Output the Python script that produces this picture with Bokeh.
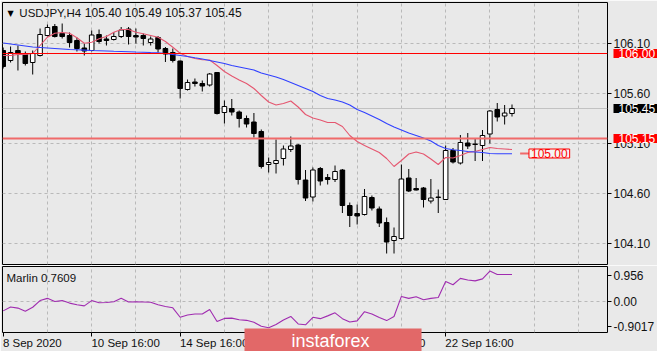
from bokeh.plotting import figure
from bokeh.models import Range1d, FixedTicker, Label, Span, ColumnDataSource, GridBox
from bokeh.embed import file_html
from bokeh.resources import INLINE

# ---------------- data ----------------
symbol = "USDJPY,H4"
opens = [106.03, 105.93, 106.03, 105.99, 105.91, 105.98, 106.18, 106.27, 106.20, 106.18,
         106.13, 106.055, 106.03, 106.19, 106.145, 106.14, 106.17, 106.245, 106.18, 106.18,
         106.11, 106.16, 106.05, 106.01, 105.925, 105.64, 105.715, 105.70, 105.685, 105.81,
         105.41, 105.45, 105.415, 105.35, 105.315, 105.22, 104.89, 104.90, 104.95, 105.04,
         105.085, 104.735, 104.565, 104.85, 104.76, 104.74, 104.835, 104.48, 104.40, 104.39,
         104.56, 104.445, 104.31, 104.13, 104.15, 104.755, 104.65, 104.655, 104.525, 104.56,
         104.54, 105.03, 104.905, 105.105, 105.09, 105.08, 105.195, 105.44, 105.375, 105.40]
highs = [106.06, 106.07, 106.08, 106.02, 106.03, 106.25, 106.29, 106.295, 106.30, 106.21,
         106.16, 106.10, 106.23, 106.24, 106.18, 106.215, 106.265, 106.265, 106.25, 106.20,
         106.17, 106.175, 106.065, 106.05, 105.93, 105.74, 105.75, 105.73, 105.805, 105.815,
         105.53, 105.545, 105.43, 105.38, 105.405, 105.24, 104.96, 105.14, 105.08, 105.17,
         105.095, 104.835, 104.86, 104.865, 104.795, 104.88, 104.845, 104.51, 104.49, 104.645,
         104.58, 104.47, 104.36, 104.26, 104.89, 104.845, 104.755, 104.665, 104.745, 104.64,
         105.08, 105.055, 105.185, 105.205, 105.155, 105.235, 105.435, 105.505, 105.485, 105.49]
lows = [105.85, 105.91, 105.83, 105.88, 105.79, 105.97, 106.17, 106.16, 106.15, 106.06,
        106.02, 105.98, 106.02, 106.10, 106.08, 106.13, 106.155, 106.09, 106.10, 106.08,
        106.08, 106.01, 105.915, 105.91, 105.55, 105.63, 105.67, 105.62, 105.67, 105.39,
        105.30, 105.38, 105.26, 105.26, 105.16, 104.85, 104.81, 104.80, 104.88, 105.015,
        104.69, 104.525, 104.52, 104.68, 104.69, 104.715, 104.405, 104.265, 104.29, 104.38,
        104.43, 104.265, 104.00, 104.00, 104.14, 104.615, 104.63, 104.46, 104.50, 104.405,
        104.535, 104.90, 104.89, 105.045, 104.925, 104.925, 105.10, 105.32, 105.29, 105.37]
closes = [105.87, 106.01, 106.00, 105.90, 106.00, 106.19, 106.26, 106.17, 106.17, 106.11,
          106.05, 106.025, 106.185, 106.12, 106.13, 106.17, 106.235, 106.17, 106.165, 106.15,
          106.145, 106.045, 105.995, 105.93, 105.65, 105.71, 105.70, 105.675, 105.795, 105.40,
          105.47, 105.415, 105.35, 105.295, 105.20, 104.87, 104.91, 104.93, 105.045, 105.075,
          104.74, 104.555, 104.835, 104.725, 104.74, 104.82, 104.48, 104.38, 104.375, 104.57,
          104.455, 104.305, 104.115, 104.17, 104.745, 104.625, 104.635, 104.54, 104.555, 104.565,
          105.03, 104.915, 105.11, 105.075, 105.095, 105.18, 105.425, 105.365, 105.405, 105.45]
ma_fast = [105.98, 105.98, 105.99, 105.99, 106.00, 106.08, 106.163, 106.203, 106.21, 106.203,
           106.157, 106.103, 106.113, 106.147, 106.17, 106.213, 106.24, 106.24, 106.213, 106.197,
           106.18, 106.163, 106.12, 106.063, 106.003, 105.97, 105.95, 105.937, 105.935, 105.88,
           105.82, 105.775, 105.735, 105.70, 105.65, 105.58, 105.515, 105.485, 105.50, 105.525,
           105.465, 105.39, 105.355, 105.335, 105.31, 105.31, 105.27, 105.18, 105.12, 105.08,
           105.045, 105.01, 104.95, 104.87, 104.93, 104.995, 105.015, 104.995, 104.945, 104.89,
           104.96, 104.955, 104.98, 105.01, 105.02, 105.04, 105.06, 105.05, 105.045, 105.04]
ma_slow = [106.105, 106.095, 106.085, 106.075, 106.065, 106.06, 106.055, 106.05, 106.045, 106.04,
           106.037, 106.034, 106.03, 106.028, 106.025, 106.022, 106.02, 106.018, 106.015, 106.013,
           106.01, 106.008, 106.00, 105.99, 105.98, 105.97, 105.957, 105.945, 105.93, 105.915,
           105.90, 105.88, 105.865, 105.85, 105.835, 105.805, 105.785, 105.765, 105.74, 105.71,
           105.68, 105.65, 105.62, 105.58, 105.55, 105.535, 105.515, 105.485, 105.44, 105.41,
           105.375, 105.34, 105.30, 105.265, 105.235, 105.205, 105.18, 105.155, 105.125, 105.08,
           105.05, 105.037, 105.03, 105.02, 105.015, 105.01, 105.00, 104.997, 104.997, 104.997]
marlin = [-0.33, -0.19, -0.23, -0.34, -0.20, 0.04, 0.12, 0.01, 0.04, -0.05,
          -0.11, -0.15, 0.04, -0.04, -0.03, 0.00, 0.12, -0.01, 0.00, -0.01,
          -0.02, -0.11, -0.17, -0.22, -0.56, -0.48, -0.44, -0.44, -0.28, -0.71,
          -0.60, -0.59, -0.65, -0.67, -0.74, -0.88, -0.94, -0.82, -0.66, -0.53,
          -0.80, -0.83, -0.56, -0.61, -0.51, -0.40, -0.61, -0.73, -0.69, -0.36,
          -0.44, -0.57, -0.68, -0.53, 0.19, 0.12, 0.18, 0.07, 0.12, 0.15,
          0.73, 0.61, 0.84, 0.78, 0.75, 0.82, 1.10, 0.98, 0.98, 0.98]
marlin_name = "Marlin 0.7609"

time_ticks = [0, 12, 24, 36, 48, 60]
time_labels = ["8 Sep 2020", "10 Sep 16:00", "14 Sep 16:00", "16 Sep 16:00", "18 Sep 16:00", "22 Sep 16:00"]
price_ticks = [106.10, 105.60, 105.10, 104.60, 104.10]
marlin_ticks = [0.956, 0.0, -0.9017]
marlin_tick_labels = ["0.956", "0.00", "-0.9017"]
level_resist = 106.00
level_support = 105.15
level_target = 105.00
bid = closes[-1]
watermark = "instaforex"

# ---------------- layout helpers (pixel geometry of the screen) ----------------
BG = "#e9e9e9"
GRID = "#b9b9b9"
FONT = "Liberation Sans"
W, H1, H2 = 657, 265, 86
BAR_PX = 7.435
X0_PX = 2.7


def px_to_i(px):
    return (px - X0_PX) / BAR_PX


def price_at(py):
    return 106.10 - (py - 43) / 100.0


def ind_at(py):
    return (302.8 - py) / 29.07


ARIAL = {"0": .556, "1": .556, "2": .556, "3": .556, "4": .556, "5": .556, "6": .556,
         "7": .556, "8": .556, "9": .556, " ": .278, ":": .278, "S": .667, "e": .556, "p": .556}


def text_w(s, size):
    return sum(ARIAL.get(ch, .556) for ch in s) * size


x_range = Range1d(px_to_i(2), px_to_i(612))

idx = list(range(len(closes)))
src = ColumnDataSource(dict(
    x=idx, o=opens, h=highs, l=lows, c=closes,
    top=[max(o, c) for o, c in zip(opens, closes)],
    bottom=[min(o, c) for o, c in zip(opens, closes)],
    fill=["#ffffff" if c >= o else "#000000" for o, c in zip(opens, closes)],
))


def style_axis(ax):
    ax.axis_line_color = None
    ax.major_tick_in = 0
    ax.major_tick_out = 4
    ax.minor_tick_line_color = None
    ax.major_tick_line_color = "#000000"
    ax.major_label_standoff = 2
    ax.major_label_text_font = FONT
    ax.major_label_text_font_size = "12px"
    ax.major_label_text_color = "#111111"


# ---------------- main panel ----------------
p1 = figure(width=W, height=H1, x_range=x_range, y_range=Range1d(price_at(264), price_at(2)),
            output_backend="svg", toolbar_location=None, x_axis_location=None,
            y_axis_location="right", min_border_left=2, min_border_right=W - 612,
            min_border_top=2, min_border_bottom=1,
            background_fill_color=BG, border_fill_color=BG,
            outline_line_color="#000000", outline_line_width=1)

ya = p1.yaxis[0]
style_axis(ya)
ya.ticker = FixedTicker(ticks=price_ticks)
ya.major_label_overrides = {t: f"{t:.2f}" for t in price_ticks}

p1.ygrid.grid_line_color = GRID
p1.ygrid.grid_line_dash = "3 3"
p1.xgrid.ticker = FixedTicker(ticks=list(range(6, 84, 6)))
p1.xgrid.grid_line_color = GRID
p1.xgrid.grid_line_dash = "3 3"

p1.add_layout(Span(location=bid, dimension="width", line_color="#c2c2c2", line_width=1, level="underlay"))

p1.segment(x0="x", y0="l", x1="x", y1="h", source=src, line_color="#000000", line_width=1)
p1.vbar(x="x", width=0.62, top="top", bottom="bottom", source=src,
        fill_color="fill", line_color="#000000", line_width=1)

p1.line(idx, ma_fast, line_color="#e5566f", line_width=1.1)
p1.line(idx, ma_slow, line_color="#3040ff", line_width=1.1)

p1.add_layout(Span(location=level_resist, dimension="width", line_color="#ff0000", line_width=1))
p1.add_layout(Span(location=level_support, dimension="width", line_color="#f06a6a", line_width=2))

last = len(closes) - 1
p1.segment(x0=[last + 1.1], y0=[level_target], x1=[last + 2.3], y1=[level_target],
           line_color="#f06a6a", line_width=2)
p1.add_layout(Label(x=last + 2.3, y=level_target, text=f"{level_target:.2f}",
                    text_color="#ff0000", text_font=FONT, text_font_size="12px",
                    text_align="left", text_baseline="middle",
                    background_fill_color="#f4f4f4", border_line_color="#ff0000",
                    padding=dict(left=2, right=2, top=0, bottom=0)))

# header
p1.add_layout(Label(x=px_to_i(7), y=price_at(12.5), text="\u25bc", text_font="DejaVu Sans",
                    text_font_size="8px", text_color="#000000", text_align="left", text_baseline="middle"))
p1.add_layout(Label(x=px_to_i(19), y=price_at(12.5), text=symbol, text_font=FONT,
                    text_font_size="11.5px", text_color="#111111", text_align="left", text_baseline="middle"))
quote = " ".join(f"{v:.2f}" for v in (opens[-1], highs[-1], lows[-1], closes[-1]))
p1.add_layout(Label(x=px_to_i(85), y=price_at(12.5), text=quote, text_font=FONT,
                    text_font_size="12px", text_color="#111111", text_align="left", text_baseline="middle"))

# ---------------- indicator panel ----------------
p2 = figure(width=W, height=H2, x_range=x_range, y_range=Range1d(ind_at(335), ind_at(266)),
            output_backend="svg", toolbar_location=None, x_axis_location="below",
            y_axis_location="right", min_border_left=2, min_border_right=W - 612,
            min_border_top=1, min_border_bottom=16,
            background_fill_color=BG, border_fill_color=BG,
            outline_line_color="#000000", outline_line_width=1)

ya2 = p2.yaxis[0]
style_axis(ya2)
ya2.ticker = FixedTicker(ticks=marlin_ticks)
ya2.major_label_overrides = dict(zip(marlin_ticks, marlin_tick_labels))

# time axis: labels start at their tick (MT4 style) -> label centres shifted right,
# real tick marks drawn as minor ticks
xa2 = p2.xaxis[0]
style_axis(xa2)
label_size = 11.5
centres = [t + text_w(s, label_size) / 2 / BAR_PX for t, s in zip(time_ticks, time_labels)]
xa2.ticker = FixedTicker(ticks=centres, minor_ticks=time_ticks)
xa2.major_label_overrides = dict(zip(centres, time_labels))
xa2.major_tick_line_color = None
xa2.major_tick_out = 3
xa2.minor_tick_line_color = "#000000"
xa2.minor_tick_in = 0
xa2.minor_tick_out = 4
xa2.major_label_standoff = 0
xa2.major_label_text_font_size = f"{label_size}px"

p2.ygrid.ticker = FixedTicker(ticks=[0.0])
p2.ygrid.grid_line_color = GRID
p2.ygrid.grid_line_dash = "3 3"
p2.xgrid.ticker = FixedTicker(ticks=list(range(6, 84, 6)))
p2.xgrid.grid_line_color = GRID
p2.xgrid.grid_line_dash = "3 3"

p2.line(idx, marlin, line_color="#a02cb0", line_width=1.1)
p2.add_layout(Label(x=px_to_i(6), y=ind_at(277.5), text=marlin_name, text_font=FONT,
                    text_font_size="11.5px", text_color="#111111", text_align="left", text_baseline="middle"))

# ---------------- transparent overlay (price tags + watermark) ----------------
ov = figure(width=W, height=H1 + H2, x_range=Range1d(px_to_i(0), px_to_i(W)),
            y_range=Range1d(price_at(H1 + H2), price_at(0)),
            output_backend="svg", toolbar_location=None, x_axis_location=None, y_axis_location=None,
            min_border_left=0, min_border_right=0, min_border_top=0, min_border_bottom=0,
            background_fill_alpha=0, border_fill_alpha=0, outline_line_color=None)
if "frame_align" in ov.properties():
    ov.frame_align = False
ov.xgrid.visible = False
ov.ygrid.visible = False

for lvl, bgc in [(level_resist, "#ff0000"), (bid, "#000000"), (level_support, "#ff0000")]:
    ov.add_layout(Label(x=px_to_i(613), y=lvl, text=f"{lvl:.2f}", text_color="#ffffff",
                        text_font=FONT, text_font_size="12px", text_align="left",
                        text_baseline="middle", background_fill_color=bgc,
                        padding=dict(left=5, right=3, top=0, bottom=0)))

ov.add_layout(Label(x=px_to_i(244), y=price_at(328), text=watermark, text_font=FONT,
                    text_font_size="18px", text_color="#ffffff", text_align="left", text_baseline="top",
                    background_fill_color="#e26868",
                    padding=dict(left=47, right=52, top=2, bottom=16)))

layout = GridBox(children=[(p1, 0, 0), (p2, 1, 0), (ov, 0, 0, 2, 1)], spacing=0)

open("out.html", "w").write(file_html(layout, INLINE))
